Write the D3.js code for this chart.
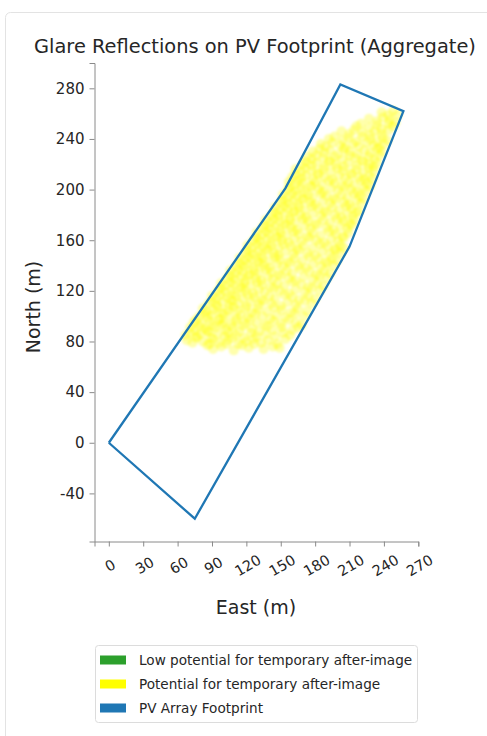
<!DOCTYPE html>
<html>
<head>
<meta charset="utf-8">
<script src="https://cdn.jsdelivr.net/npm/d3@7"></script>
<style>
  body { margin: 0; background: #fff; font-family: "DejaVu Sans", sans-serif; }
  .tick text { fill: #262626; }
</style>
</head>
<body>
<div id="chart"></div>
<script>
var title = "Glare Reflections on PV Footprint (Aggregate)";
var xLabel = "East (m)";
var yLabel = "North (m)";

var xTicks = [0, 30, 60, 90, 120, 150, 180, 210, 240, 270];
var yTicks = [-40, 0, 40, 80, 120, 160, 200, 240, 280];

// PV array outline, [east, north]
var footprint = [[0, 0], [154, 201], [202, 283], [257, 262], [210, 155], [75, -60], [0, 0]];

var legendLabels = ["Low potential for temporary after-image", "Potential for temporary after-image", "PV Array Footprint"];
var legendColors = ["#2ca02c", "#ffff00", "#1f77b4"];

// glare reflection points, [east, north]
var glarePoints = [
  [86,77],[91,74],[98,76],[103,78],[109,73],[116,77],[122,75],[127,78],[135,74],[143,76],[149,75],
  [68,81],[73,79],[76,83],[82,80],[88,78],[91,82],[96,79],[104,81],[108,83],[113,78],[120,80],[126,82],[133,79],[139,81],[147,78],[154,82],
  [67,85],[71,87],[77,84],[80,86],[86,88],[89,83],[95,86],[101,84],[104,87],[111,85],[118,83],[124,87],[129,84],[137,86],[145,84],[152,87],[158,85],
  [71,91],[75,89],[79,92],[84,90],[87,88],[93,91],[99,93],[102,89],[108,91],[114,88],[117,92],[125,90],[131,88],[138,92],[143,89],[151,91],[160,89],[165,91],
  [74,95],[76,97],[81,94],[88,96],[91,93],[96,97],[100,95],[107,93],[111,96],[119,94],[123,97],[129,95],[136,93],[144,96],[150,94],[157,97],[163,95],[168,93],
  [79,100],[83,102],[86,99],[90,101],[97,98],[100,102],[105,100],[112,98],[115,101],[121,99],[128,102],[134,100],[141,98],[146,101],[154,99],[162,102],[170,100],
  [82,106],[85,104],[91,105],[95,107],[98,103],[104,105],[109,107],[112,104],[119,106],[125,103],[130,106],[138,104],[144,107],[151,105],[159,103],[165,106],[173,104],
  [87,110],[90,112],[94,109],[99,111],[105,108],[108,112],[113,110],[120,108],[124,111],[131,109],[135,112],[142,110],[150,108],[156,111],[163,109],[171,112],[177,110],
  [90,116],[94,114],[97,117],[103,115],[106,113],[111,116],[117,114],[121,117],[127,115],[133,113],[140,116],[145,114],[153,117],[160,115],[166,113],[174,116],[180,114],
  [95,120],[98,122],[102,119],[107,121],[110,118],[116,122],[119,120],[126,118],[131,121],[136,119],[144,122],[149,120],[157,118],[163,121],[171,119],[177,122],[184,120],
  [98,126],[101,124],[106,127],[109,125],[115,123],[118,126],[124,124],[129,127],[134,125],[141,123],[147,126],[153,124],[160,127],[168,125],[174,123],[182,126],[187,124],
  [103,130],[106,132],[110,129],[115,131],[119,128],[122,132],[128,130],[133,128],[139,131],[143,129],[150,132],[157,130],[163,128],[170,131],[178,129],[184,132],[190,130],
  [106,136],[110,134],[113,137],[117,135],[123,133],[127,136],[131,134],[137,137],[142,135],[148,133],[155,136],[160,134],[167,137],[175,135],[181,133],[188,136],[193,134],
  [111,140],[114,142],[118,139],[121,141],[126,138],[132,142],[135,140],[140,138],[147,141],[152,139],[158,142],[165,140],[172,138],[178,141],[185,139],[191,142],[196,140],
  [114,146],[118,144],[122,147],[125,145],[130,143],[134,146],[140,144],[145,147],[149,145],[156,143],[162,146],[169,144],[175,147],[183,145],[189,143],[195,146],[199,144],
  [119,150],[121,152],[126,149],[130,151],[133,148],[139,152],[144,150],[148,148],[154,151],[161,149],[166,152],[173,150],[180,148],[186,151],[193,149],[198,152],[202,150],
  [121,156],[125,154],[129,157],[134,155],[137,153],[142,156],[148,154],[152,157],[159,155],[164,153],[170,156],[178,154],[184,157],[191,155],[197,153],[202,156],[205,154],
  [126,160],[129,162],[132,159],[138,161],[141,158],[147,162],[151,160],[157,158],[162,161],[168,159],[175,162],[181,160],[188,158],[194,161],[200,159],[205,162],
  [129,166],[133,164],[137,167],[140,165],[146,163],[150,166],[155,164],[161,167],[166,165],[173,163],[178,166],[185,164],[192,167],[198,165],[204,163],[209,166],
  [134,170],[136,172],[141,169],[145,171],[149,168],[155,172],[159,170],[164,168],[171,171],[176,169],[182,172],[190,170],[196,168],[202,171],[208,169],[212,172],
  [137,176],[141,174],[144,177],[149,175],[153,173],[158,176],[163,174],[169,177],[174,175],[180,173],[187,176],[193,174],[199,177],[205,175],[210,173],[214,176],
  [142,180],[145,182],[148,179],[153,181],[158,178],[161,182],[167,180],[172,178],[178,181],[185,179],[190,182],[197,180],[203,178],[208,181],[213,179],[216,182],
  [145,186],[149,184],[153,187],[156,185],[162,183],[166,186],[171,184],[177,187],[183,185],[188,183],[195,186],[201,184],[207,187],[212,185],[218,183],
  [150,190],[152,192],[157,189],[161,191],[165,188],[170,192],[176,190],[180,188],[187,191],[193,189],[198,192],[205,190],[210,188],[216,191],[220,189],
  [152,196],[156,194],[160,197],[164,195],[169,193],[174,196],[178,194],[185,197],[190,195],[196,193],[203,196],[208,194],[214,197],[219,195],[222,193],
  [156,200],[158,202],[163,199],[168,201],[171,198],[177,202],[183,200],[187,198],[194,201],[200,199],[206,202],[211,200],[217,198],[222,201],[225,199],
  [157,206],[162,204],[165,207],[169,205],[176,203],[180,206],[186,204],[192,207],[197,205],[203,203],[209,206],[214,204],[220,207],[225,205],[228,203],
  [160,210],[163,212],[168,209],[172,211],[178,208],[183,212],[188,210],[195,208],[201,211],[206,209],[212,212],[218,210],[223,208],[227,211],[230,209],
  [163,216],[168,214],[171,217],[177,215],[182,213],[187,216],[194,214],[199,217],[204,215],[211,213],[216,216],[222,214],[227,217],[231,215],
  [169,220],[172,222],[177,219],[181,221],[188,218],[192,222],[198,220],[205,218],[209,221],[216,219],[222,222],[227,220],[231,218],[234,221],
  [173,226],[177,224],[181,227],[187,225],[193,223],[197,226],[204,224],[210,227],[215,225],[221,223],[227,226],[232,224],[236,227],
  [178,230],[184,232],[188,229],[193,231],[200,228],[205,232],[210,230],[217,228],[223,231],[228,229],[234,232],[238,230],
  [185,236],[189,234],[195,237],[202,235],[206,233],[213,236],[218,234],[225,237],[231,235],[236,233],[240,236],
  [192,240],[197,242],[204,239],[209,241],[216,238],[221,242],[228,240],[234,238],[239,241],[243,239],
  [203,246],[210,244],[214,247],[221,245],[228,243],[232,246],[238,244],[244,247],
  [216,250],[220,252],[227,249],[234,251],[238,248],[244,252],[248,250],
  [227,256],[234,254],[239,257],[245,255],[250,253],
  [238,261],[244,259],[248,262],[252,259]
];

var width = 487, height = 736;

var svg = d3.select("#chart")
  .append("svg")
  .attr("width", width)
  .attr("height", height);

var defs = svg.append("defs");
defs.append("filter")
  .attr("id", "soft")
  .append("feGaussianBlur")
  .attr("stdDeviation", 0.8);

// card outline
svg.append("rect")
  .attr("x", 5.5).attr("y", 12.5)
  .attr("width", 520).attr("height", 760)
  .attr("rx", 5)
  .style("fill", "none")
  .style("stroke", "#e3e3e3");

var x = d3.scaleLinear().domain([-12.5, 270]).range([94.5, 418.3]);
var y = d3.scaleLinear().domain([-78, 300]).range([541.5, 63]);

// glare points
svg.append("g")
  .attr("filter", "url(#soft)")
  .selectAll("circle")
  .data(glarePoints)
  .enter()
  .append("circle")
  .attr("cx", function(d) { return x(d[0]); })
  .attr("cy", function(d) { return y(d[1]); })
  .attr("r", 5)
  .style("fill", "#ffff00")
  .style("opacity", 0.32);

// footprint outline
var line = d3.line()
  .x(function(d) { return x(d[0]); })
  .y(function(d) { return y(d[1]); });

svg.append("path")
  .datum(footprint)
  .attr("d", line)
  .style("fill", "none")
  .style("stroke", "#1f77b4")
  .style("stroke-width", 2.3)
  .style("stroke-linejoin", "miter");

// axes
var fmt = function(d) { return String(d); };

var xAxis = svg.append("g")
  .attr("transform", "translate(0," + 541.5 + ")")
  .call(d3.axisBottom(x).tickValues(xTicks).tickFormat(fmt).tickSize(5).tickPadding(6));

xAxis.selectAll(".tick text")
  .attr("y", 0)
  .attr("dy", null)
  .attr("dominant-baseline", "central")
  .attr("transform", "translate(1,24) rotate(-30)")
  .style("font-size", "14.5px");

var yAxis = svg.append("g")
  .attr("transform", "translate(" + 94.5 + ",0)")
  .call(d3.axisLeft(y).tickValues(yTicks).tickFormat(fmt).tickSize(5).tickPadding(5));

yAxis.selectAll(".tick text").style("font-size", "15px");

svg.selectAll(".domain").style("stroke", "#8a8a8a");
svg.selectAll(".tick line").style("stroke", "#8a8a8a");
svg.selectAll(".tick text").style("font-family", "DejaVu Sans");

// title and labels
svg.append("text")
  .attr("x", 255).attr("y", 53)
  .attr("text-anchor", "middle")
  .style("font-size", "19.4px")
  .style("fill", "#262626")
  .text(title);

svg.append("text")
  .attr("x", 256).attr("y", 614)
  .attr("text-anchor", "middle")
  .style("font-size", "19px")
  .style("fill", "#262626")
  .text(xLabel);

svg.append("text")
  .attr("transform", "translate(40,307) rotate(-90)")
  .attr("text-anchor", "middle")
  .style("font-size", "19px")
  .style("fill", "#262626")
  .text(yLabel);

// legend
var legend = svg.append("g");

legend.append("rect")
  .attr("x", 95.5).attr("y", 645.5)
  .attr("width", 322).attr("height", 77)
  .attr("rx", 3)
  .style("fill", "#fff")
  .style("stroke", "#dcdcdc");

var rows = legend.selectAll("g.row")
  .data(legendLabels)
  .enter()
  .append("g")
  .attr("class", "row")
  .attr("transform", function(d, i) { return "translate(0," + (660 + i * 24) + ")"; });

rows.append("rect")
  .attr("x", 100).attr("y", -4.5)
  .attr("width", 26).attr("height", 9)
  .style("fill", function(d, i) { return legendColors[i]; });

rows.append("text")
  .attr("x", 139).attr("y", 0)
  .attr("dominant-baseline", "central")
  .style("font-size", "13.6px")
  .style("fill", "#262626")
  .text(function(d) { return d; });
</script>
</body>
</html>
